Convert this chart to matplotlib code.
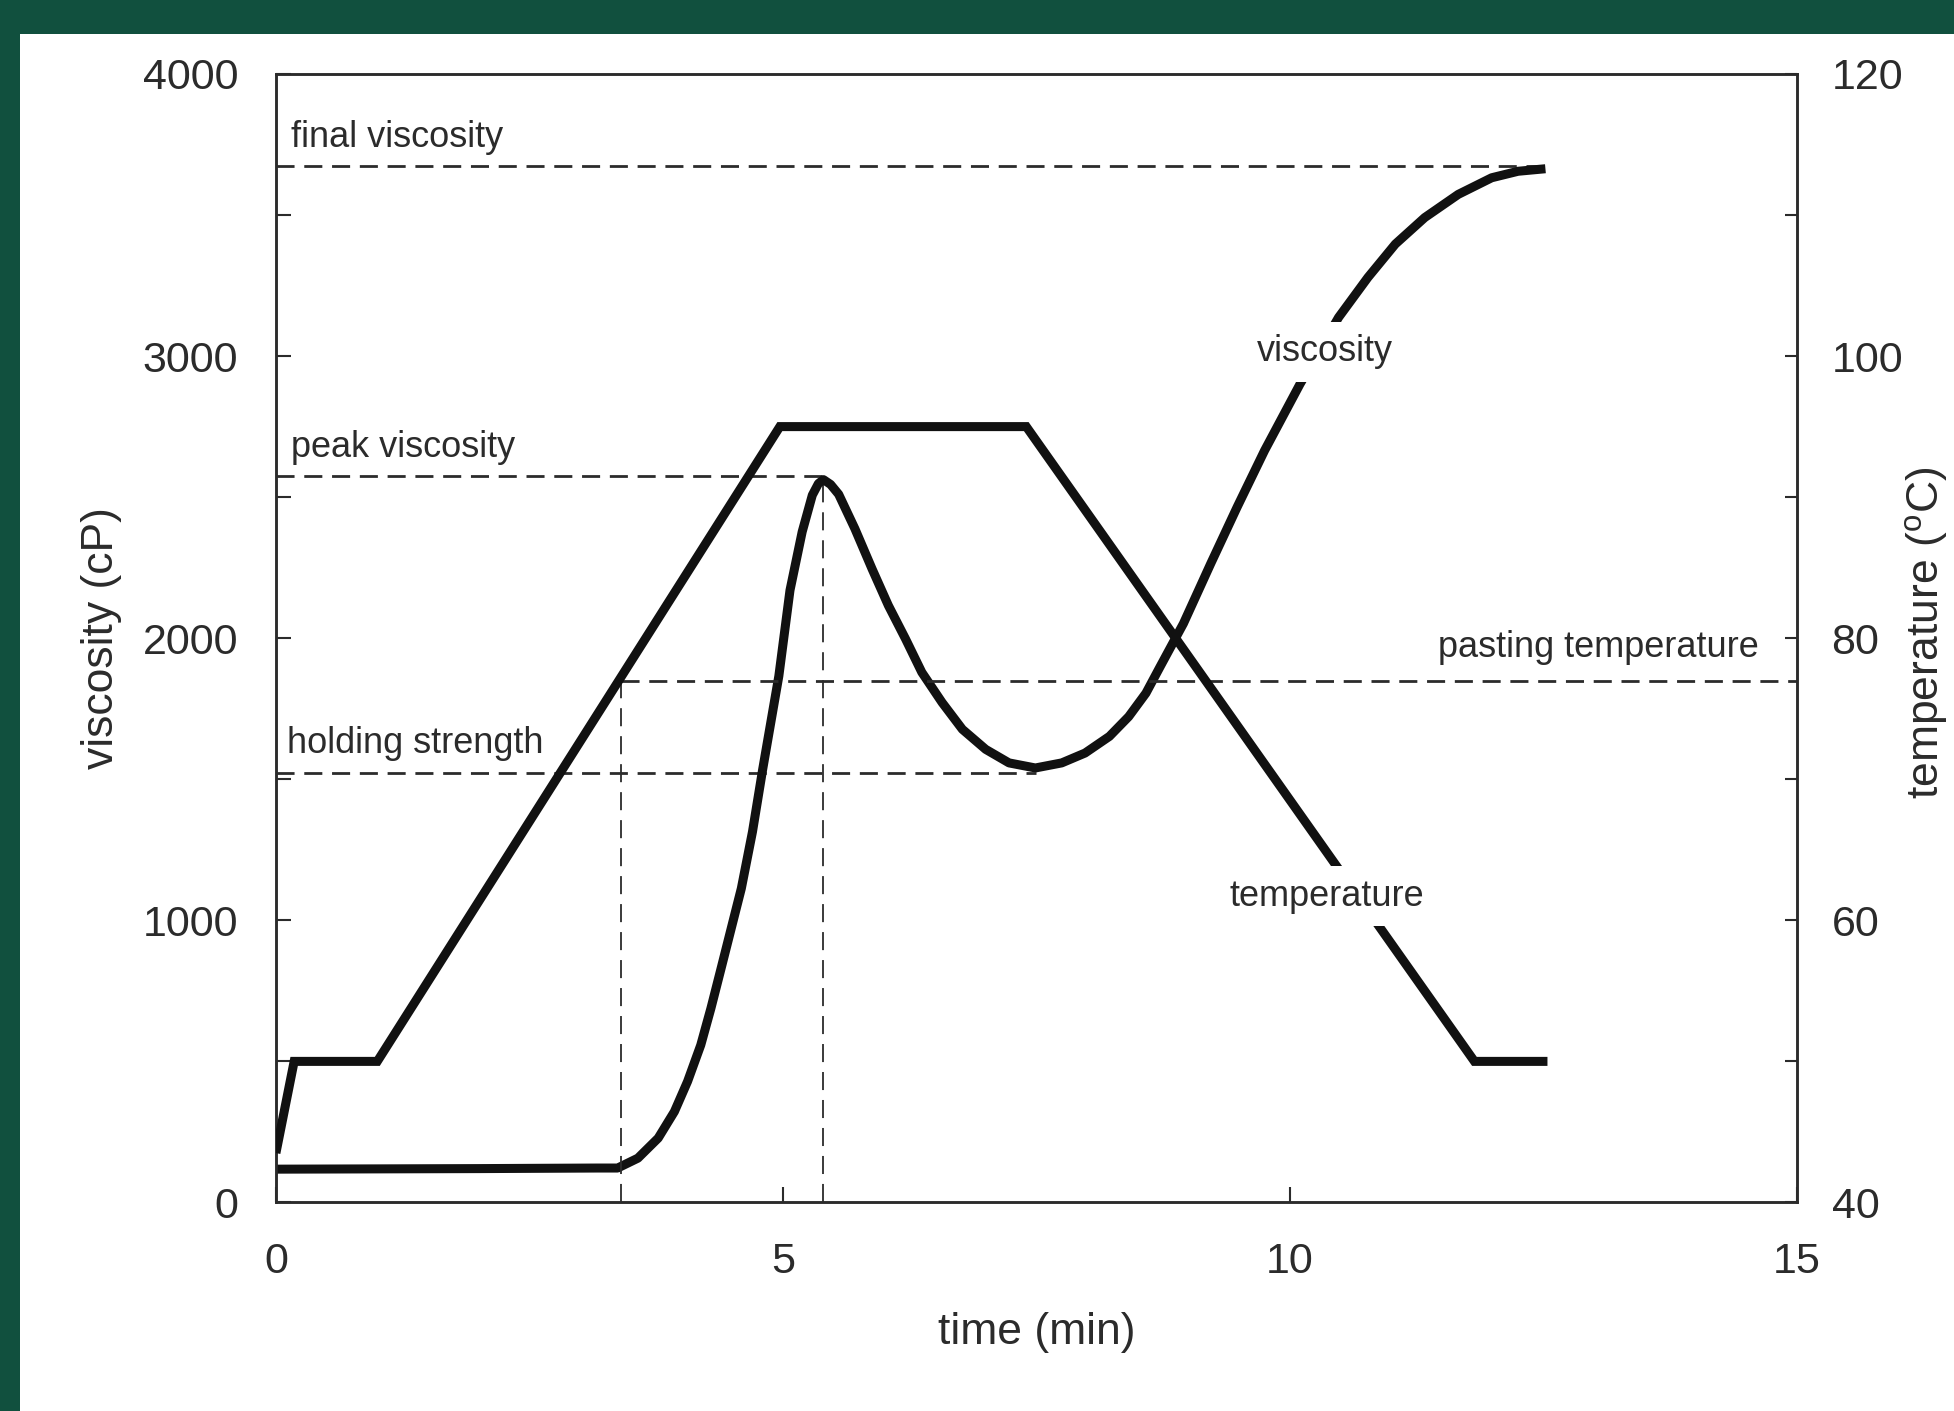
import matplotlib
matplotlib.use("Agg")
import matplotlib.pyplot as plt
from matplotlib.patches import Rectangle
from matplotlib.ticker import MultipleLocator

plt.rcParams['font.family'] = ['Liberation Sans', 'DejaVu Sans']
plt.rcParams['mathtext.fontset'] = 'custom'
plt.rcParams['mathtext.rm'] = 'Liberation Sans'

# temperature profile (min, degC)
temp_time = [0.0, 0.18, 1.0, 4.97, 7.40, 11.82, 12.54]
temp_vals = [43.5, 50, 50, 95, 95, 50, 50]

# viscosity trace (min, cP)
visc_time = [0.0, 1.0, 2.0, 3.17, 3.37, 3.57, 3.77, 3.93, 4.06, 4.19, 4.29, 4.39,
             4.49, 4.59, 4.70, 4.80, 4.96, 5.07, 5.19, 5.29, 5.35, 5.40, 5.47, 5.55,
             5.71, 5.88, 6.04, 6.21, 6.37, 6.57, 6.77, 7.00, 7.23, 7.49, 7.75, 7.98,
             8.22, 8.41, 8.58, 8.72, 8.95, 9.22, 9.48, 9.75, 10.10, 10.48, 10.77,
             11.04, 11.33, 11.66, 11.99, 12.25, 12.52]
visc_vals = [118, 119, 120, 122, 122, 157, 228, 322, 429, 558, 688, 829,
             971, 1113, 1314, 1534, 1866, 2170, 2377, 2507, 2548, 2562, 2545, 2510,
             2388, 2245, 2116, 1997, 1879, 1772, 1677, 1606, 1558, 1540, 1558, 1593,
             1652, 1722, 1805, 1899, 2052, 2265, 2465, 2665, 2901, 3137, 3279,
             3397, 3491, 3573, 3632, 3655, 3664]

# characteristic points
final_visc, final_time = 3672, 12.50
peak_visc, peak_time = 2575, 5.40
hold_visc, hold_time = 1522, 7.50
paste_temp, paste_time = 77, 3.40

text_col = '#2b2b2b'
line_col = '#111111'
dash_h = (0, (6.5, 3.5))
dash_v = (0, (10, 5.5))

fig = plt.figure(figsize=(19.54, 14.11), dpi=100)
fig.patch.set_facecolor('#11503e')
fig.add_artist(Rectangle((20 / 1954, 0), 1, (1411 - 34) / 1411, transform=fig.transFigure,
                         facecolor='white', edgecolor='none', zorder=-10))

ax = fig.add_axes([0.1412, 0.1478, 0.7784, 0.7998])
ax2 = ax.twinx()

ax.set_xlim(0, 15)
ax.set_ylim(0, 4000)
ax2.set_ylim(40, 120)

# main curves
ax.plot(visc_time, visc_vals, color=line_col, lw=6.5, solid_joinstyle='round',
        solid_capstyle='butt', zorder=3)
ax2.plot(temp_time, temp_vals, color=line_col, lw=6.5, solid_joinstyle='miter',
         solid_capstyle='butt', zorder=3)

# guide lines
ax.plot([0, final_time], [final_visc, final_visc], color=text_col, lw=2, ls=dash_h)
ax.plot([0, peak_time], [peak_visc, peak_visc], color=text_col, lw=2, ls=dash_h)
ax.plot([0, hold_time], [hold_visc, hold_visc], color=text_col, lw=2, ls=dash_h)
ax.plot([peak_time, peak_time], [0, peak_visc], color=text_col, lw=1.3, ls=dash_v)
ax2.plot([paste_time, 15], [paste_temp, paste_temp], color=text_col, lw=2, ls=dash_h)
ax2.plot([paste_time, paste_time], [40, paste_temp], color=text_col, lw=1.3, ls=dash_v)

# annotations
ax.text(0.15, 3740, 'final viscosity', fontsize=26, color=text_col, va='baseline')
ax.text(0.15, 2643, 'peak viscosity', fontsize=26, color=text_col, va='baseline')
ax.text(0.11, 1592, 'holding strength', fontsize=26, color=text_col, va='baseline')
ax2.text(14.62, 78.7, 'pasting temperature', fontsize=26, color=text_col,
         ha='right', va='baseline')
ax2.text(10.35, 100.3, 'viscosity', fontsize=26, color=text_col, ha='center',
         va='center', zorder=6,
         bbox=dict(boxstyle='square,pad=0.35', facecolor='white', edgecolor='none'))
ax2.text(10.36, 61.7, 'temperature', fontsize=26, color=text_col, ha='center',
         va='center', zorder=6,
         bbox=dict(boxstyle='square,pad=0.35', facecolor='white', edgecolor='none'))

# axes styling
ax.set_xticks([0, 5, 10, 15])
ax.set_yticks([0, 1000, 2000, 3000, 4000])
ax.yaxis.set_minor_locator(MultipleLocator(500))
ax2.set_yticks([40, 60, 80, 100, 120])
ax2.yaxis.set_minor_locator(MultipleLocator(10))

ax.tick_params(axis='x', direction='in', length=11, width=1.5, pad=28.5,
               labelsize=31, labelcolor=text_col, color=text_col)
ax.tick_params(axis='y', which='both', direction='in', length=11, width=1.5, pad=27,
               labelsize=31, labelcolor=text_col, color=text_col, right=False)
ax2.tick_params(axis='y', which='both', direction='in', length=9, width=1.5, pad=25,
                labelsize=31, labelcolor=text_col, color=text_col)

for a in (ax, ax2):
    for sp in a.spines.values():
        sp.set_linewidth(1.8)
        sp.set_color(text_col)

ax.set_xlabel('time (min)', fontsize=32, color=text_col)
ax.xaxis.set_label_coords(0.5, -0.097)
ax.set_ylabel('viscosity (cP)', fontsize=32, color=text_col)
ax.yaxis.set_label_coords(-0.101, 0.5)
ax2.set_ylabel(r'temperature ($^\mathregular{o}$C)', fontsize=32, color=text_col)
ax2.yaxis.set_label_coords(1.070, 0.505)

fig.savefig('out.png', dpi=100, facecolor=fig.get_facecolor())
